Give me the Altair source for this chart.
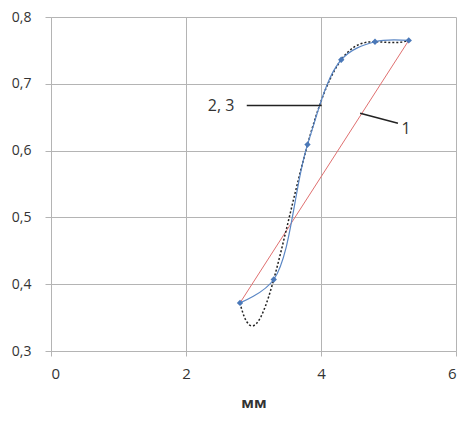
import altair as alt
import pandas as pd

# measured points (series 2, 3)
xs = [2.8, 3.3, 3.8, 4.3, 4.8, 5.3]
ys = [0.372, 0.407, 0.609, 0.736, 0.763, 0.765]

# line 1: straight line between first and last points
line1_x = [xs[0], xs[-1]]
line1_y = [ys[0], ys[-1]]

# annotation labels and leader lines (data space)
label_text = ["2, 3", "1"]
label_x = [2.52, 5.26]
label_y = [0.6675, 0.632]
leader_x1 = [2.9, 4.58]
leader_y1 = [0.6675, 0.656]
leader_x2 = [4.01, 5.14]
leader_y2 = [0.6675, 0.641]

x_ticks = [0, 2, 4, 6]
y_ticks = [0.3, 0.4, 0.5, 0.6, 0.7, 0.8]

pts = pd.DataFrame({"x": xs, "y": ys})
l1 = pd.DataFrame({"x": line1_x, "y": line1_y})
lab = pd.DataFrame({"t": label_text, "x": label_x, "y": label_y})
lead = pd.DataFrame({"x": leader_x1, "y": leader_y1, "x2": leader_x2, "y2": leader_y2})

FONT = "Open Sans"
GRID = "#b4b4b4"

xscale = alt.Scale(domain=[0, 6], nice=False)
yscale = alt.Scale(domain=[0.3, 0.8], nice=False, zero=False)

xaxis = alt.Axis(values=x_ticks, format="d", title="мм", grid=True, gridColor=GRID,
                 domainColor=GRID, tickColor=GRID, tickSize=5,
                 labelFont=FONT, labelFontSize=15, labelColor="#333333",
                 labelPadding=10, titleFont=FONT, titleFontSize=15,
                 titleFontWeight="bold", titleColor="#333333", titlePadding=14)
yaxis = alt.Axis(values=y_ticks, title=None, grid=True, gridColor=GRID,
                 domainColor=GRID, tickColor=GRID, tickSize=6,
                 labelFont=FONT, labelFontSize=14, labelColor="#333333",
                 labelPadding=14,
                 labelExpr="replace(format(datum.value, '.1f'), '.', ',')")

base_x = alt.X("x:Q", scale=xscale, axis=xaxis)
base_y = alt.Y("y:Q", scale=yscale, axis=yaxis)

red = alt.Chart(l1).mark_line(color="#e07070", strokeWidth=1).encode(x=base_x, y=base_y)

dotted = alt.Chart(pts).transform_regression(
    "x", "y", method="poly", order=5
).mark_line(color="#222222", strokeDash=[2, 2], strokeWidth=1.5).encode(
    x=alt.X("x:Q", scale=xscale), y=alt.Y("y:Q", scale=yscale))

blue = alt.Chart(pts).mark_line(color="#5b87c5", strokeWidth=1.2,
                                interpolate="catmull-rom").encode(
    x=alt.X("x:Q", scale=xscale), y=alt.Y("y:Q", scale=yscale))

markers = alt.Chart(pts).mark_point(shape="diamond", filled=True, size=40,
                                    color="#4a78b8", opacity=1).encode(
    x=alt.X("x:Q", scale=xscale), y=alt.Y("y:Q", scale=yscale))

leaders = alt.Chart(lead).mark_rule(color="#222222", strokeWidth=1.5).encode(
    x=alt.X("x:Q", scale=xscale), y=alt.Y("y:Q", scale=yscale),
    x2="x2:Q", y2="y2:Q")

labels = alt.Chart(lab).mark_text(font=FONT, fontSize=16, color="#333333",
                                  align="center", baseline="middle").encode(
    x=alt.X("x:Q", scale=xscale), y=alt.Y("y:Q", scale=yscale), text="t:N")

chart = alt.layer(red, dotted, blue, markers, leaders, labels).properties(
    width=405, height=334,
    autosize=alt.AutoSizeParams(type="none"),
    padding={"left": 43, "top": 9, "right": 7, "bottom": 60},
    background="white",
).configure_view(stroke=None)

chart.save("out.html", embed_options={"renderer": "svg", "actions": False})
